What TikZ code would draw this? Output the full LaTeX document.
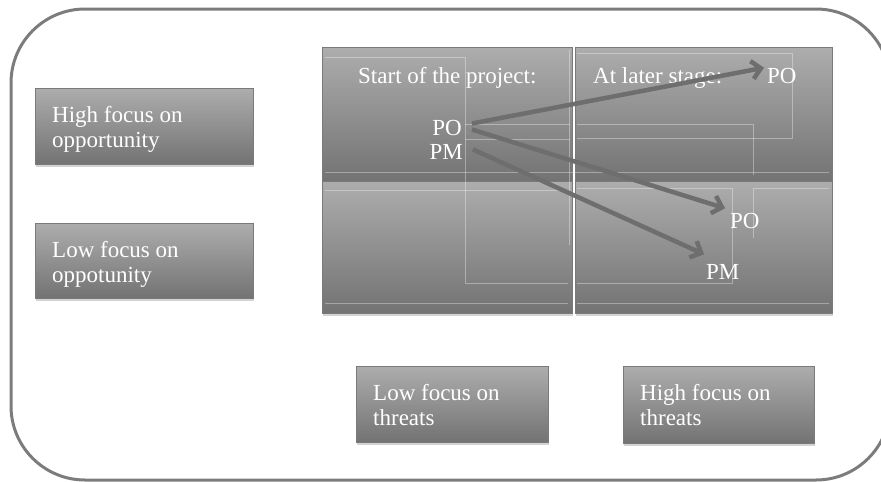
\documentclass[tikz,border=0pt]{standalone}
\usepackage{fontspec}
\setmainfont{Liberation Serif}
\usetikzlibrary{arrows.meta,shadows,calc}
\definecolor{btop}{HTML}{ADADAD}
\definecolor{bbot}{HTML}{737373}
\definecolor{bline}{HTML}{7A7A7A}
\definecolor{frame}{HTML}{7C7C7C}
\definecolor{arr}{HTML}{6E6E6E}
\tikzset{
  gbox/.style={draw=bline, line width=1pt, top color=btop, bottom color=bbot,
    drop shadow={opacity=0.35, shadow xshift=1pt, shadow yshift=-3pt}},
  lbl/.style={text=white, font=\fontsize{23}{25}\selectfont, inner sep=0pt, anchor=base west},
  txt/.style={text=white, font=\fontsize{23}{25}\selectfont, inner sep=0pt},
  faint/.style={draw=white, draw opacity=0.35, line width=0.6pt},
  arrowline/.style={draw=arr, line width=4.5pt, -{Straight Barb[length=9pt,width=18pt,line width=4.5pt]},
    shorten >=1pt}
}
\begin{document}
\begin{tikzpicture}[x=1pt,y=-1pt]
\useasboundingbox (0,0) rectangle (881,482);
% outer frame
\draw[frame, line width=3pt, rounded corners=74pt] (11,9) rectangle (890,480);
% left boxes
\path[gbox] (35,88) rectangle (253,164);
\node[lbl, align=left] (hopp) at (52,147) {High focus on\\opportunity};
\path[gbox] (35,223) rectangle (253,298);
\node[lbl, align=left] (lopp) at (52,282) {Low focus on\\oppotunity};
% bottom boxes
\path[gbox] (356,366) rectangle (548,442);
\node[lbl, align=left] (lthr) at (373,425) {Low focus on\\threats};
\path[gbox] (623,366) rectangle (814,443);
\node[lbl, align=left] (hthr) at (640,425) {High focus on\\threats};
% quadrants
\path[gbox] (322,47) rectangle (572,181);
\path[gbox] (575,47) rectangle (832,181);
\path[gbox] (322,181) rectangle (572,313);
\path[gbox] (575,181) rectangle (832,313);
% faint guide lines
\draw[faint] (325,57) -- (465,57) -- (465,283) -- (568,283);
\draw[faint] (569,50) -- (569,245);
\draw[faint] (465,124) -- (570,124);
\draw[faint] (465,139) -- (570,139);
\draw[faint] (325,172) -- (829,172);
\draw[faint] (325,190) -- (568,190);
\draw[faint] (577,53) -- (792,53) -- (792,138) -- (577,138);
\draw[faint] (577,124) -- (753,124) -- (753,175);
\draw[faint] (577,188) -- (732,188) -- (732,283) -- (577,283);
\draw[faint] (753,238) -- (753,188) -- (829,188);
\draw[faint] (577,303) -- (829,303);
\draw[faint] (325,303) -- (568,303);
% texts
\node[lbl] (start) at (358,83) {Start of the project:};
\node[lbl] (later) at (593,83) {At later stage:};
\node[txt, anchor=base east] (po1) at (462,135) {PO};
\node[txt, anchor=base east] (pm1) at (463,159) {PM};
\node[txt, anchor=base west] (po2) at (767,83) {PO};
\node[txt, anchor=base west] (po3) at (730,228) {PO};
\node[txt, anchor=base west] (pm3) at (706,279) {PM};
% arrows
\draw[arrowline] ($(po1.east)+(10,-4)$) -- ($(po2.west)+(-2,-8)$);
\draw[arrowline] ($(po1.east)+(10,2)$) -- ($(po3.north west)+(-4,-4)$);
\draw[arrowline] ($(pm1.east)+(10,-2)$) -- ($(pm3.north west)+(-1,-9)$);
\end{tikzpicture}
\end{document}
